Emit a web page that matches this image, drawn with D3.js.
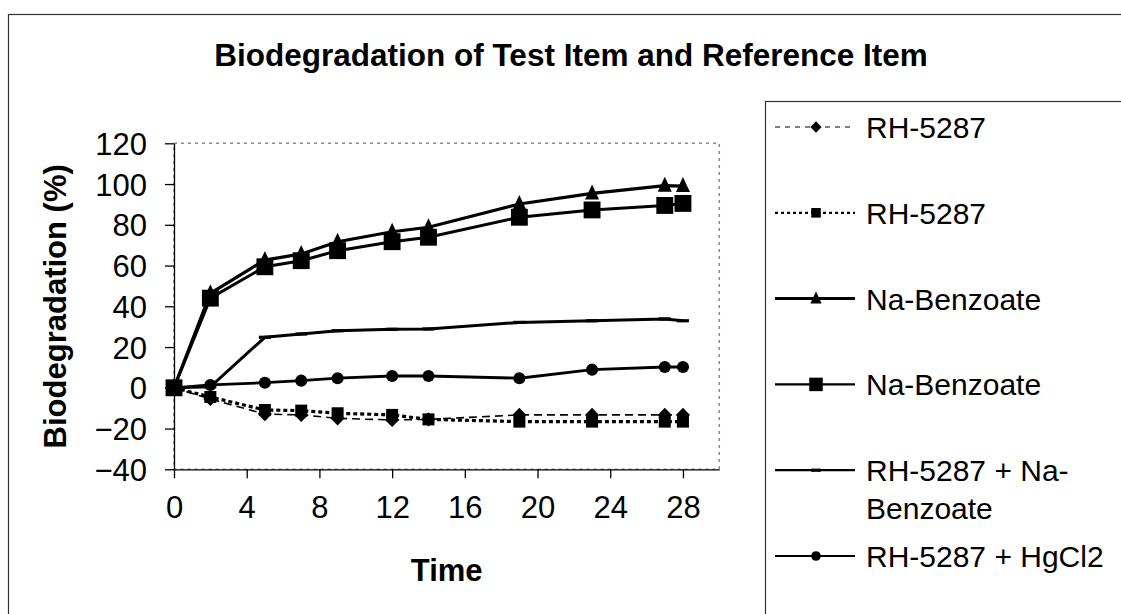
<!DOCTYPE html>
<meta charset="utf-8">
<style>
    body { margin: 0; background: #fff; }
    text { font-family: "Liberation Sans", Arial, sans-serif; fill: #000; }
    .axis path, .axis line { stroke: #000; stroke-width: 1.3; }
    .axis text { font-size: 31px; }
    .title { font-weight: bold; font-size: 31.5px; }
    .axis-title { font-weight: bold; font-size: 31px; }
    .legend text { font-size: 30px; }
</style>
<body>
<script src="https://cdn.jsdelivr.net/npm/d3@7"></script>
<script>

    // sampling days
    var days = [0, 2, 5, 7, 9, 12, 14, 19, 23, 27, 28];

    // biodegradation (%) per series
    var rhA      = [0, -5.5, -12.9, -13.3, -15, -15.8, -15.5, -13.3, -13.3, -13.3, -13.3];
    var rhB      = [0, -4.5, -10.9, -11.2, -12.5, -13.3, -15.5, -16.6, -16.6, -16.6, -16.6];
    var naBenzA  = [0, 46.4, 62.7, 65.7, 71.7, 76.6, 78.8, 90.2, 95.4, 99.2, 99];
    var naBenzB  = [0, 44, 59.4, 62.4, 67.3, 71.7, 73.9, 83.7, 87.3, 89.5, 90.5];
    var rhPlusNa = [0, 0.5, 24.8, 26.4, 28, 28.7, 28.9, 32.1, 32.9, 33.8, 32.9];
    var rhPlusHg = [0, 1.4, 2.5, 3.5, 4.7, 5.8, 5.8, 4.7, 8.9, 10.2, 10.2];

    var xTicks = [0, 4, 8, 12, 16, 20, 24, 28];
    var yTicks = [-40, -20, 0, 20, 40, 60, 80, 100, 120];

    var series = [
        {name: "RH-5287", values: rhA, marker: "diamond", width: 1.6, dash: "8,5"},
        {name: "RH-5287", values: rhB, marker: "smallSquare", width: 3.2, dash: "4,3"},
        {name: "Na-Benzoate", values: naBenzA, marker: "triangle", width: 3.2, dash: null},
        {name: "Na-Benzoate", values: naBenzB, marker: "bigSquare", width: 3, dash: null},
        {name: "RH-5287 + Na-Benzoate", values: rhPlusNa, marker: "dash", width: 3, dash: null},
        {name: "RH-5287 + HgCl2", values: rhPlusHg, marker: "circle", width: 2.8, dash: null}
    ];

    var W = 1121, H = 614;

    var x = d3.scaleLinear().domain([0, 30]).range([174, 719.3]);
    var y = d3.scaleLinear().domain([-40, 120]).range([469.3, 143.3]);

    var svg = d3.select("body").append("svg")
            .attr("width", W)
            .attr("height", H);

    svg.append("rect").attr("width", W).attr("height", H).attr("fill", "#fff");

    // chart area border (runs off the picture at right and bottom)
    svg.append("rect")
        .attr("x", 8.5).attr("y", 14.5)
        .attr("width", 1200).attr("height", 700)
        .attr("fill", "none").attr("stroke", "#333").attr("stroke-width", 1.2);

    svg.append("text")
        .attr("class", "title")
        .attr("x", 571).attr("y", 66)
        .attr("text-anchor", "middle")
        .text("Biodegradation of Test Item and Reference Item");

    // plot area border, grey dotted
    svg.append("rect")
        .attr("x", x(0)).attr("y", y(120))
        .attr("width", x(30) - x(0)).attr("height", y(-40) - y(120))
        .attr("fill", "none").attr("stroke", "#8a8a8a")
        .attr("stroke-width", 1.5).attr("stroke-dasharray", "3,4");

    var yAxis = d3.axisLeft(y).tickValues(yTicks).tickSize(9).tickPadding(18).tickSizeOuter(0);
    var xAxis = d3.axisBottom(x).tickValues(xTicks).tickSize(9).tickSizeOuter(0);

    var gy = svg.append("g").attr("class", "axis").attr("transform", "translate(" + x(0) + ",0)").call(yAxis);
    gy.selectAll("text").attr("dy", "0.36em");

    var gx = svg.append("g").attr("class", "axis").attr("transform", "translate(0," + y(-40) + ")").call(xAxis);
    gx.selectAll("text").attr("y", 49).attr("dy", 0);

    svg.append("text")
        .attr("class", "axis-title")
        .attr("transform", "rotate(-90)")
        .attr("x", -(y(120) + y(-40)) / 2).attr("y", 66)
        .attr("text-anchor", "middle")
        .text("Biodegradation (%)");

    svg.append("text")
        .attr("class", "axis-title")
        .attr("x", (x(0) + x(30)) / 2).attr("y", 581)
        .attr("text-anchor", "middle")
        .text("Time");

    // excel-like markers, k scales them down for the legend
    function drawMarker(g, type, k) {
        var m;
        if (type === "dash") {
            g.append("rect").attr("x", -6 * k).attr("y", -1.6).attr("width", 12 * k).attr("height", 3.2).attr("fill", "#000");
            return;
        }
        if (type === "diamond") {
            m = g.append("path").attr("d", d3.symbol().type(d3.symbolSquare).size(100 * k * k)())
                 .attr("transform", "rotate(45)");
        } else if (type === "smallSquare") {
            m = g.append("path").attr("d", d3.symbol().type(d3.symbolSquare).size(144 * k * k)());
        } else if (type === "bigSquare") {
            m = g.append("path").attr("d", d3.symbol().type(d3.symbolSquare).size(285 * k * k)());
        } else if (type === "triangle") {
            m = g.append("path").attr("d", "M0," + (-9 * k) + "L" + (7 * k) + "," + (6 * k) + "L" + (-7 * k) + "," + (6 * k) + "Z");
        } else {
            m = g.append("path").attr("d", d3.symbol().type(d3.symbolCircle).size(115 * k * k)());
        }
        m.attr("fill", "#000");
    }

    var line = d3.line()
        .x(function(d) { return x(d[0]); })
        .y(function(d) { return y(d[1]); });

    series.forEach(function(s) {
        var pts = days.map(function(d, i) { return [d, s.values[i]]; });
        var g = svg.append("g");
        g.append("path")
            .attr("d", line(pts))
            .attr("fill", "none")
            .attr("stroke", "#000")
            .attr("stroke-width", s.width)
            .attr("stroke-dasharray", s.dash);
        pts.forEach(function(p) {
            drawMarker(g.append("g").attr("transform", "translate(" + x(p[0]) + "," + y(p[1]) + ")"), s.marker, 1);
        });
    });

    // legend
    var legend = svg.append("g").attr("class", "legend");
    legend.append("rect")
        .attr("x", 765.5).attr("y", 101.5)
        .attr("width", 500).attr("height", 600)
        .attr("fill", "#fff").attr("stroke", "#333").attr("stroke-width", 1.2);

    series.forEach(function(s, i) {
        var base = 138 + i * 85.8;
        var row = legend.append("g");
        row.append("line")
            .attr("x1", 775).attr("x2", 855)
            .attr("y1", base - 11).attr("y2", base - 11)
            .attr("stroke", "#000")
            .attr("stroke-width", s.marker === "triangle" ? 3 : (s.width < 2 ? 1.2 : 2.2))
            .attr("stroke-dasharray", s.dash ? (s.width < 2 ? "5,5" : "3,3") : null);
        drawMarker(row.append("g").attr("transform", "translate(816," + (base - 11) + ")"), s.marker, 0.8);
        var t = row.append("text").attr("x", 866).attr("y", base);
        if (s.name === "RH-5287 + Na-Benzoate") {
            t.append("tspan").attr("x", 866).text("RH-5287 + Na-");
            t.append("tspan").attr("x", 866).attr("dy", 38).text("Benzoate");
        } else {
            t.text(s.name);
        }
    });

</script>
